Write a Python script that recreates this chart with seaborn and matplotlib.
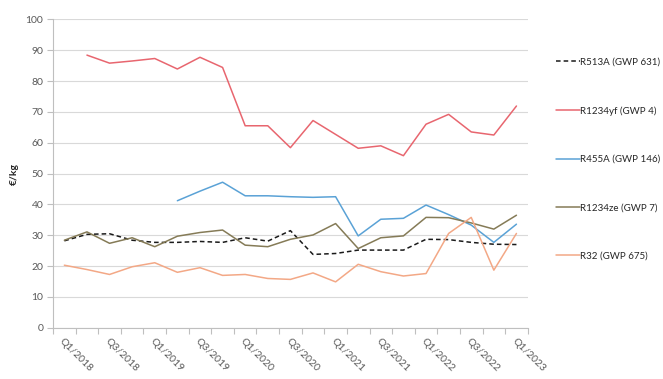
import numpy as np
import pandas as pd
import matplotlib
matplotlib.use("Agg")
import matplotlib.pyplot as plt
import seaborn as sns

quarters = ["Q1/2018", "Q2/2018", "Q3/2018", "Q4/2018",
            "Q1/2019", "Q2/2019", "Q3/2019", "Q4/2019",
            "Q1/2020", "Q2/2020", "Q3/2020", "Q4/2020",
            "Q1/2021", "Q2/2021", "Q3/2021", "Q4/2021",
            "Q1/2022", "Q2/2022", "Q3/2022", "Q4/2022",
            "Q1/2023"]
nan = np.nan
r513a = [28.2, 30.3, 30.5, 28.4, 27.7, 27.7, 28.0, 27.7, 29.2, 28.1, 31.5,
         23.8, 24.1, 25.2, 25.2, 25.2, 28.7, 28.6, 27.7, 27.1, 27.0]
r1234yf = [nan, 88.4, 85.8, 86.5, 87.3, 83.9, 87.7, 84.4, 65.5, 65.5, 58.4,
           67.2, 62.7, 58.2, 59.0, 55.8, 66.0, 69.2, 63.5, 62.5, 71.9]
r455a = [nan, nan, nan, nan, nan, 41.2, 44.3, 47.2, 42.8, 42.8, 42.5,
         42.3, 42.5, 29.8, 35.2, 35.5, 39.8, 36.7, 33.3, 27.7, 33.6]
r1234ze = [28.4, 31.1, 27.4, 29.2, 26.3, 29.7, 30.9, 31.7, 26.8, 26.3, 28.7,
           30.1, 33.8, 25.7, 29.2, 29.8, 35.8, 35.7, 34.0, 32.0, 36.5]
r32 = [20.3, 18.9, 17.3, 19.8, 21.1, 18.0, 19.5, 17.0, 17.3, 16.0, 15.7,
       17.8, 14.9, 20.6, 18.2, 16.8, 17.6, 30.6, 35.8, 18.7, 30.6]

series_names = ["R513A (GWP 631)", "R1234yf (GWP 4)", "R455A (GWP 146)",
                "R1234ze (GWP 7)", "R32 (GWP 675)"]
series_values = [r513a, r1234yf, r455a, r1234ze, r32]
colors = ["#1a1a1a", "#E8666F", "#5AA2D6", "#857B57", "#F3A886"]
y_ticks = list(range(0, 101, 10))

rows = []
for name, vals in zip(series_names, series_values):
    for i, v in enumerate(vals):
        rows.append({"idx": i, "value": v, "series": name})
df = pd.DataFrame(rows)

sns.set_theme(style="white")
plt.rcParams["font.family"] = ["Lato", "DejaVu Sans"]

fig = plt.figure(figsize=(6.63, 3.79), dpi=100)
ax = fig.add_axes([0.080, 0.135, 0.716, 0.814])

palette = dict(zip(series_names, colors))
dashes = {n: (3, 2) if n.startswith("R513A") else "" for n in series_names}
sns.lineplot(data=df.dropna(), x="idx", y="value", hue="series", style="series",
             palette=palette, dashes=dashes, hue_order=series_names,
             style_order=series_names, linewidth=1.1, ax=ax, legend=True)

ax.set_xlim(-0.5, len(quarters) - 0.5)
ax.set_ylim(0, 100)
ax.set_yticks(y_ticks)
ax.set_yticklabels([str(t) for t in y_ticks], fontsize=7.5, color="#595959")
ax.yaxis.grid(True, color="#D9D9D9", linewidth=0.8)
ax.xaxis.grid(False)

label_pos = list(range(0, len(quarters), 2))
ax.set_xticks(label_pos)
ax.set_xticklabels([quarters[i] for i in label_pos], rotation=-45, ha="left",
                   rotation_mode="anchor", fontsize=7.5, color="#595959")
ax.set_xticks(np.arange(-0.5, len(quarters), 1.0), minor=True)
ax.tick_params(axis="x", which="major", length=0, pad=6)
ax.tick_params(axis="x", which="minor", length=4, color="#BFBFBF", width=0.8,
               direction="out", bottom=True)
ax.tick_params(axis="y", which="major", length=4, color="#BFBFBF", width=0.8,
               direction="out", left=True, pad=3)

for s in ["top", "right"]:
    ax.spines[s].set_visible(False)
for s in ["left", "bottom"]:
    ax.spines[s].set_color("#BFBFBF")
    ax.spines[s].set_linewidth(0.8)

ax.set_xlabel("")
ax.set_ylabel("")
fig.text(14 / 663, 1 - 174 / 379, "€/kg", rotation=90, fontsize=7.5,
         fontweight="bold", color="#262626", ha="center", va="center")

handles, labels = ax.get_legend_handles_labels()
for h in handles:
    h.set_linewidth(1.1)
ax.get_legend().remove()
leg = fig.legend(handles, labels, loc="upper left", bbox_to_anchor=(0.833, 0.858),
                 frameon=False, fontsize=7, labelspacing=4.05, handlelength=2.4,
                 handletextpad=0.1, borderaxespad=0)
for t in leg.get_texts():
    t.set_color("#262626")

fig.savefig("out.png", dpi=100)
